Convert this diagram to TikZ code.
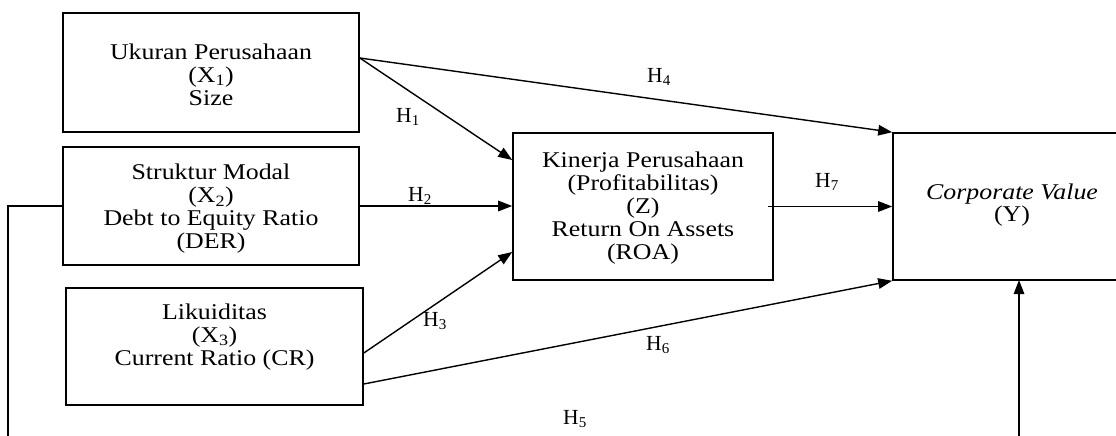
\documentclass[tikz,border=0pt]{standalone}
\usepackage{fontspec}
\setmainfont{Liberation Serif}
\newfontfamily\boxfont{Liberation Serif}[FakeStretch=1.15]
\usetikzlibrary{arrows.meta}
\begin{document}
\begin{tikzpicture}[x=1pt,y=-1pt,
  boxnode/.style={draw,line width=1.6pt,rectangle,inner sep=0pt},
  boxtext/.style={align=center,inner sep=0pt,font=\boxfont\fontsize{22.5}{23}\selectfont},
  hlabel/.style={inner sep=0pt,font=\fontsize{21.5}{22}\selectfont},
  conn/.style={line width=1.4pt},
  arr/.style={conn,-{Triangle[length=14pt,width=10.5pt]}}]
\useasboundingbox (0,0) rectangle (1116,436);
\clip (0,0) rectangle (1116,436);
% boxes
\node[boxnode,minimum width=296pt,minimum height=119pt] (X1) at (211,72.5) {};
\node[boxnode,minimum width=296pt,minimum height=118pt] (X2) at (211,206) {};
\node[boxnode,minimum width=297pt,minimum height=117pt] (X3) at (214.5,346.5) {};
\node[boxnode,minimum width=260pt,minimum height=147pt] (Z) at (643,206.5) {};
\node[boxnode,minimum width=247pt,minimum height=147pt] (Y) at (1016.5,206.5) {};
% box texts
\node[boxtext] (tX1) at (211,75) {Ukuran Perusahaan\\(X\textsubscript{1})\\Size};
\node[boxtext] (tX2) at (211,209) {Struktur Modal\\(X\textsubscript{2})\\Debt to Equity Ratio\\(DER)};
\node[boxtext] (tX3) at (214.5,337) {Likuiditas\\(X\textsubscript{3})\\Current Ratio (CR)};
\node[boxtext] (tZ) at (643,208) {Kinerja Perusahaan\\(Profitabilitas)\\(Z)\\Return On Assets\\(ROA)};
\node[boxtext,font=\boxfont\fontsize{22.5}{17}\selectfont] (tY) at (1012,205) {\textit{Corporate Value}\\(Y)};
% coordinates
\coordinate (lc1) at (8,206);
\coordinate (lc2) at (8,437);
\coordinate (bc1) at (1019,437);
\coordinate (bc2) at (1019,280);
% connectors
\draw[arr] ([yshift=14.5pt]X1.east) -- ([yshift=46.5pt]Z.west);
\draw[arr] ([yshift=14.5pt]X1.east) -- (Y.north west);
\draw[arr] (X2.east) -- (X2.east -| Z.west);
\draw[arr] ([yshift=-6.5pt]X3.east) -- ([yshift=-45.5pt]Z.west);
\draw[arr] ([yshift=-37.5pt]X3.east) -- (Y.south west);
\draw[arr] ([xshift=-6pt]Z.east) -- (Z.east -| Y.west);
\draw[conn] (X2.west) -- (lc1) -- (lc2);
\draw[arr] (bc1) -- (bc2);
% labels
\node[hlabel] (h4) at (659,77) {H\textsubscript{4}};
\node[hlabel] (h1) at (408,117) {H\textsubscript{1}};
\node[hlabel] (h2) at (420,196) {H\textsubscript{2}};
\node[hlabel] (h7) at (827,182) {H\textsubscript{7}};
\node[hlabel] (h3) at (435,321) {H\textsubscript{3}};
\node[hlabel] (h6) at (658,345) {H\textsubscript{6}};
\node[hlabel] (h5) at (575,419) {H\textsubscript{5}};
\end{tikzpicture}
\end{document}
